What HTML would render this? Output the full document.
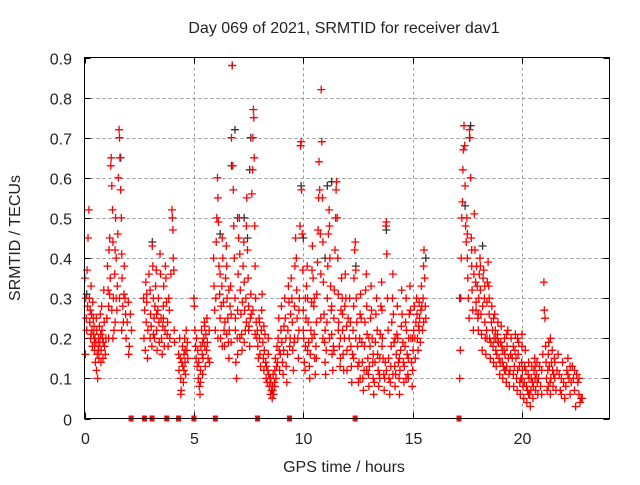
<!DOCTYPE html>
<html><head><meta charset="utf-8"><style>
html,body{margin:0;padding:0;background:#fff;}
svg text{font-family:"Liberation Sans",sans-serif;fill:#222;}
</style></head><body>
<svg id="chart" width="640" height="480" viewBox="0 0 640 480" xmlns="http://www.w3.org/2000/svg">
<rect width="640" height="480" fill="#fff"/>
<text x="344" y="33" font-size="16" text-anchor="middle">Day 069 of 2021, SRMTID for receiver dav1</text>
<text x="0" y="0" font-size="16" text-anchor="middle" transform="translate(20,238) rotate(-90)">SRMTID / TECUs</text>
<text x="344" y="472" font-size="16" text-anchor="middle">GPS time / hours</text>
<g id="grid"></g>
<g id="ticks"></g>
<g id="black"></g>
<g id="red"></g>
<g id="gaps"></g>
<rect x="84.5" y="57.5" width="525" height="361" fill="none" stroke="#000" stroke-width="1"/>
</svg>
<script>
const xTicks=[0,5,10,15,20];
const yTicks=[0,0.1,0.2,0.3,0.4,0.5,0.6,0.7,0.8,0.9];
const yTickLabels=["0","0.1","0.2","0.3","0.4","0.5","0.6","0.7","0.8","0.9"];
const gapHours=[2.13,2.74,3.09,3.76,4.3,5.0,5.98,7.91,9.37,12.37,17.12];
const blackPoints=[[6.75,.88],[6.88,.72],[6.72,.63],[7.0,.5],[7.6,.7],[7.55,.62],[11.3,.59],[11.1,.58],[17.65,.73],[17.6,.7],[10.0,.45],[13.8,.47],[3.1,.44],[1.65,.65],[15.6,.4],[18.2,.43],[12.4,.38],[11.0,.4],[7.3,.5],[7.45,.45],[0.1,.31],[17.15,.3],[17.4,.53],[6.2,.46],[9.9,.58]];
const redPoints=[
[0.02,.35],[0.04,.16],[0.06,.3],[0.08,.25],[0.1,.22],[0.12,.37],[0.14,.28],[0.16,.45],[0.2,.52],[0.22,.3],[0.24,.24],[0.26,.27],[0.28,.2],[0.3,.33],[0.32,.26],[0.34,.22],[0.36,.18],[0.38,.29],[0.4,.25],[0.42,.21],[0.44,.23],[0.46,.17],[0.48,.2],[0.5,.14],[0.52,.19],[0.54,.25],[0.56,.22],[0.58,.16],[0.6,.1],[0.62,.18],[0.64,.2],[0.66,.15],[0.68,.23],[0.7,.19],[0.72,.26],[0.74,.21],[0.76,.17],[0.78,.28],[0.8,.22],[0.82,.2],[0.84,.15],[0.86,.19],[0.88,.32],[0.9,.24],[0.92,.18],[0.95,.16],[0.98,.2],[0.3,.21],[0.45,.19],[0.55,.12],[0.65,.17],[0.75,.14],
[1.02,.25],[1.05,.38],[1.08,.32],[1.1,.28],[1.12,.42],[1.15,.45],[1.18,.35],[1.2,.63],[1.22,.65],[1.25,.58],[1.28,.52],[1.3,.44],[1.32,.3],[1.35,.22],[1.38,.36],[1.4,.42],[1.42,.5],[1.45,.4],[1.48,.27],[1.5,.33],[1.52,.46],[1.55,.6],[1.58,.72],[1.6,.7],[1.62,.65],[1.65,.57],[1.68,.5],[1.7,.41],[1.72,.35],[1.75,.28],[1.78,.24],[1.8,.31],[1.82,.38],[1.85,.3],[1.88,.26],[1.9,.2],[1.95,.24],[2.0,.29],[2.05,.18],[2.1,.26],[2.15,.22],[1.3,.2],[1.45,.3],[1.6,.3],[1.25,.27],[1.4,.24],[1.7,.22],[1.1,.2],[1.15,.31],[2.02,.16],
[2.7,.3],[2.72,.2],[2.75,.27],[2.78,.17],[2.8,.34],[2.82,.24],[2.85,.29],[2.88,.15],[2.9,.22],[2.95,.36],[3.0,.32],[3.02,.26],[3.05,.23],[3.08,.18],[3.1,.43],[3.12,.38],[3.15,.3],[3.18,.25],[3.2,.2],[3.22,.28],[3.25,.33],[3.28,.37],[3.3,.22],[3.32,.17],[3.35,.27],[3.38,.3],[3.4,.24],[3.42,.19],[3.45,.41],[3.48,.36],[3.5,.25],[3.52,.2],[3.55,.16],[3.58,.23],[3.6,.28],[3.62,.33],[3.65,.18],[3.68,.22],[3.7,.38],[3.72,.35],[3.75,.29],[3.78,.21],[3.8,.24],[3.82,.18],[3.85,.3],[3.88,.27],[3.9,.2],[3.95,.36],[4.0,.52],[4.02,.5],[4.04,.47],[4.06,.4],[4.08,.37],[4.1,.22],[4.12,.19],[2.85,.31],[3.0,.2],[3.15,.21],[3.3,.26],[3.6,.25],
[4.3,.16],[4.32,.12],[4.35,.2],[4.38,.15],[4.4,.1],[4.42,.07],[4.45,.14],[4.48,.18],[4.5,.13],[4.52,.09],[4.55,.16],[4.58,.2],[4.6,.14],[4.62,.11],[4.65,.22],[4.68,.17],[4.7,.19],[4.72,.15],[4.4,.06],[4.55,.12],[4.6,.17],
[5.0,.3],[5.02,.28],[5.05,.22],[5.08,.18],[5.1,.15],[5.12,.2],[5.15,.13],[5.18,.17],[5.2,.1],[5.22,.14],[5.25,.08],[5.28,.06],[5.3,.12],[5.32,.18],[5.35,.22],[5.38,.16],[5.4,.11],[5.42,.15],[5.45,.2],[5.48,.24],[5.5,.18],[5.52,.13],[5.55,.21],[5.58,.17],[5.6,.25],[5.62,.19],[5.65,.15],[5.7,.22],[5.72,.14],[5.3,.09],[5.4,.19],[5.5,.23],
[5.9,.4],[5.92,.33],[5.95,.27],[5.98,.22],[6.0,.3],[6.02,.44],[6.05,.5],[6.08,.6],[6.1,.55],[6.12,.49],[6.15,.38],[6.18,.31],[6.2,.25],[6.22,.2],[6.25,.28],[6.28,.33],[6.3,.45],[6.32,.4],[6.35,.29],[6.38,.22],[6.4,.18],[6.42,.24],[6.45,.35],[6.48,.43],[6.5,.38],[6.52,.3],[6.55,.25],[6.58,.19],[6.6,.15],[6.62,.22],[6.65,.28],[6.68,.33],[6.7,.26],[6.72,.7],[6.75,.88],[6.78,.63],[6.8,.57],[6.82,.48],[6.85,.4],[6.88,.3],[6.9,.22],[6.92,.14],[6.95,.1],[6.98,.2],[7.0,.27],[7.02,.36],[7.05,.45],[7.08,.5],[7.1,.41],[7.12,.32],[7.15,.26],[7.18,.21],[7.2,.17],[7.22,.29],[7.25,.38],[7.28,.44],[7.3,.34],[7.32,.27],[7.35,.22],[7.38,.3],[7.4,.48],[7.42,.55],[7.45,.42],[7.48,.35],[7.5,.28],[7.52,.23],[7.55,.18],[7.58,.25],[7.6,.31],[7.62,.26],[7.65,.56],[7.68,.62],[7.7,.7],[7.72,.77],[7.74,.75],[7.76,.65],[7.78,.48],[7.8,.38],[7.82,.3],[7.85,.24],[7.88,.2],[6.1,.2],[6.3,.18],[6.5,.21],[6.7,.19],[6.9,.25],[7.1,.2],[7.3,.19],[7.5,.22],[7.7,.27],[6.2,.36],[6.6,.32],[7.0,.16],[7.4,.24],[7.8,.21],
[7.9,.22],[7.92,.18],[7.95,.15],[7.98,.25],[8.0,.2],[8.02,.16],[8.05,.13],[8.08,.22],[8.1,.27],[8.12,.31],[8.15,.19],[8.18,.15],[8.2,.12],[8.22,.17],[8.25,.21],[8.28,.14],[8.3,.1],[8.32,.13],[8.35,.09],[8.38,.12],[8.4,.16],[8.42,.11],[8.45,.08],[8.48,.1],[8.5,.06],[8.52,.09],[8.55,.07],[8.58,.05],[8.6,.08],[8.62,.11],[8.65,.06],[8.68,.09],[8.7,.12],[8.72,.15],[8.75,.1],[8.78,.13],[8.8,.18],[8.82,.14],[8.85,.2],[8.88,.25],[8.9,.17],[8.92,.12],[8.95,.16],[8.98,.22],[9.0,.28],[9.02,.19],[9.05,.14],[9.08,.11],[9.1,.17],[9.12,.23],[9.15,.3],[9.18,.25],[9.2,.2],[9.22,.13],[9.25,.09],[9.28,.16],[9.3,.22],[9.32,.33],[9.35,.29],[9.38,.18],[8.5,.1],[8.6,.07],[8.7,.08],[8.0,.24],[8.2,.23],[8.4,.2],
[9.4,.2],[9.42,.26],[9.45,.35],[9.48,.3],[9.5,.24],[9.52,.17],[9.55,.12],[9.58,.19],[9.6,.28],[9.62,.38],[9.65,.45],[9.68,.4],[9.7,.32],[9.72,.25],[9.75,.2],[9.78,.15],[9.8,.22],[9.82,.3],[9.85,.48],[9.88,.68],[9.9,.69],[9.92,.57],[9.95,.46],[9.98,.37],[10.0,.27],[10.02,.2],[10.05,.14],[10.08,.12],[10.1,.18],[10.12,.25],[10.15,.33],[10.18,.38],[10.2,.3],[10.22,.24],[10.25,.19],[10.28,.13],[10.3,.1],[10.32,.16],[10.35,.22],[10.38,.29],[10.4,.37],[10.42,.43],[10.45,.35],[10.48,.28],[10.5,.21],[10.52,.15],[10.55,.11],[10.58,.18],[10.6,.24],[10.62,.31],[10.65,.39],[10.68,.47],[10.7,.55],[10.72,.64],[10.75,.57],[10.78,.46],[10.8,.36],[10.82,.82],[10.85,.69],[10.88,.55],[10.9,.44],[10.92,.34],[10.95,.26],[10.98,.19],[11.0,.14],[11.02,.11],[11.05,.17],[11.08,.24],[11.1,.3],[11.12,.38],[11.15,.46],[11.18,.52],[11.2,.48],[11.22,.4],[11.25,.33],[11.28,.27],[11.3,.21],[11.32,.16],[11.35,.12],[11.38,.18],[11.4,.25],[11.42,.32],[11.45,.42],[11.48,.5],[11.5,.57],[11.52,.59],[11.55,.5],[11.58,.4],[11.6,.31],[11.62,.24],[11.65,.18],[11.68,.13],[11.7,.2],[11.72,.27],[11.75,.35],[11.78,.3],[11.8,.22],[11.82,.16],[11.85,.12],[11.88,.2],[11.9,.28],[11.92,.36],[11.95,.3],[11.98,.23],[12.0,.17],[12.05,.25],[12.1,.2],[9.6,.2],[9.8,.27],[10.0,.22],[10.2,.17],[10.4,.2],[10.6,.15],[10.8,.25],[11.0,.22],[11.2,.2],[11.4,.17],[11.6,.22],[11.8,.26],[12.0,.12],[10.1,.3],[10.5,.3],[10.9,.2],[11.3,.28],[11.7,.15],
[12.12,.3],[12.15,.24],[12.18,.18],[12.2,.13],[12.22,.09],[12.25,.16],[12.28,.22],[12.3,.28],[12.32,.35],[12.35,.42],[12.38,.44],[12.4,.37],[12.42,.3],[12.45,.24],[12.48,.18],[12.5,.13],[12.52,.09],[12.55,.14],[12.58,.2],[12.6,.26],[12.62,.31],[12.65,.25],[12.68,.19],[12.7,.14],[12.72,.1],[12.75,.07],[12.78,.12],[12.8,.18],[12.82,.24],[12.85,.32],[12.88,.36],[12.9,.28],[12.92,.21],[12.95,.15],[12.98,.11],[13.0,.08],[13.02,.13],[13.05,.18],[13.08,.25],[13.1,.33],[13.12,.27],[13.15,.2],[13.18,.14],[13.2,.1],[13.22,.06],[13.25,.09],[13.28,.14],[13.3,.19],[13.32,.26],[13.35,.3],[13.38,.22],[13.4,.16],[13.42,.12],[13.45,.08],[13.48,.11],[13.5,.15],[13.52,.21],[13.55,.28],[13.58,.34],[13.6,.27],[13.62,.2],[13.65,.15],[13.68,.11],[13.7,.07],[13.72,.1],[13.75,.14],[13.78,.48],[13.8,.49],[13.82,.41],[13.85,.3],[13.88,.22],[13.9,.15],[13.92,.1],[13.95,.06],[13.98,.09],[14.0,.13],[14.02,.18],[14.05,.24],[14.08,.3],[14.1,.36],[14.12,.26],[14.15,.19],[14.18,.13],[14.2,.08],[14.22,.11],[14.25,.16],[14.28,.21],[14.3,.28],[14.32,.2],[14.35,.14],[14.38,.1],[14.4,.06],[14.42,.12],[14.45,.17],[14.48,.23],[14.5,.32],[14.52,.26],[14.55,.19],[14.58,.14],[14.6,.09],[14.62,.13],[14.65,.18],[14.68,.24],[14.7,.3],[14.72,.22],[14.75,.16],[14.78,.11],[14.8,.15],[14.82,.2],[14.85,.26],[14.88,.33],[14.9,.27],[14.92,.2],[14.95,.14],[14.98,.08],[15.0,.12],[15.02,.17],[15.05,.22],[15.08,.28],[15.1,.2],[15.12,.15],[15.15,.24],[15.18,.3],[15.2,.26],[15.22,.2],[15.25,.17],[15.28,.23],[15.3,.29],[15.32,.25],[15.35,.19],[15.38,.27],[15.4,.33],[15.42,.28],[15.45,.22],[15.48,.3],[15.5,.38],[15.52,.42],[15.55,.35],[15.58,.28],[15.6,.25],[12.3,.15],[12.6,.1],[12.9,.12],[13.2,.16],[13.5,.1],[13.8,.12],[14.1,.11],[14.4,.15],[14.7,.1],[15.0,.2],[15.3,.22],[15.5,.24],[12.4,.2],[13.0,.2],[13.6,.18],[14.2,.2],[14.8,.1],
[17.15,.1],[17.18,.17],[17.2,.3],[17.22,.4],[17.25,.5],[17.28,.54],[17.3,.62],[17.32,.67],[17.35,.73],[17.38,.68],[17.4,.58],[17.42,.48],[17.45,.44],[17.48,.5],[17.5,.4],[17.52,.35],[17.55,.3],[17.58,.25],[17.6,.72],[17.62,.7],[17.65,.6],[17.68,.45],[17.7,.38],[17.72,.32],[17.75,.27],[17.78,.22],[17.8,.36],[17.82,.51],[17.85,.42],[17.88,.34],[17.9,.29],[17.92,.38],[17.95,.33],[17.98,.25],[18.0,.22],[18.02,.3],[18.05,.36],[18.08,.4],[18.1,.32],[18.12,.26],[18.15,.21],[18.18,.17],[18.2,.28],[18.22,.35],[18.25,.37],[18.28,.3],[18.3,.24],[18.32,.2],[18.35,.16],[18.38,.22],[18.4,.29],[18.42,.34],[18.45,.39],[18.48,.33],[18.5,.26],[18.52,.2],[18.55,.15],[18.58,.19],[18.6,.24],[18.62,.28],[18.65,.22],[18.68,.18],[18.7,.14],[18.72,.2],[18.75,.26],[18.78,.22],[18.8,.17],[18.82,.13],[18.85,.16],[18.88,.21],[18.9,.24],[18.92,.19],[18.95,.15],[18.98,.11],[19.0,.14],[19.02,.19],[19.05,.23],[19.08,.18],[19.1,.14],[19.12,.1],[19.15,.13],[19.18,.17],[19.2,.2],[19.22,.16],[19.25,.12],[19.28,.09],[19.3,.13],[19.32,.18],[19.35,.22],[19.38,.15],[19.4,.11],[19.42,.08],[19.45,.12],[19.48,.16],[17.5,.46],[17.7,.42],[17.9,.27],[18.1,.38],[18.3,.33],[18.5,.3],[18.7,.25],[18.9,.19],[19.1,.17],[19.3,.21],[18.0,.26],[18.4,.2],[18.8,.2],[19.2,.12],
[19.5,.2],[19.55,.15],[19.6,.11],[19.62,.08],[19.65,.13],[19.68,.17],[19.7,.21],[19.72,.15],[19.75,.1],[19.78,.07],[19.8,.12],[19.82,.16],[19.85,.19],[19.88,.13],[19.9,.09],[19.92,.06],[19.95,.1],[19.98,.14],[20.0,.18],[20.02,.12],[20.05,.08],[20.08,.05],[20.1,.09],[20.12,.13],[20.15,.17],[20.18,.12],[20.2,.08],[20.22,.04],[20.25,.07],[20.28,.11],[20.3,.14],[20.32,.1],[20.35,.06],[20.38,.03],[20.4,.07],[20.42,.1],[20.45,.13],[20.48,.09],[20.5,.05],[20.52,.08],[20.55,.12],[20.58,.15],[20.6,.1],[20.62,.07],[20.65,.11],[20.68,.14],[20.7,.09],[20.72,.06],[20.75,.1],[20.8,.13],[20.85,.08],[20.9,.12],[20.95,.16],[21.0,.34],[21.02,.27],[21.05,.25],[21.08,.18],[21.1,.14],[21.12,.1],[21.15,.07],[21.18,.12],[21.2,.16],[21.22,.19],[21.25,.13],[21.28,.09],[21.3,.06],[21.32,.1],[21.35,.14],[21.38,.17],[21.4,.12],[21.42,.08],[21.45,.11],[21.48,.15],[21.5,.1],[21.55,.07],[21.6,.12],[21.65,.16],[21.7,.11],[21.75,.07],[21.8,.1],[21.85,.14],[21.9,.09],[21.95,.05],[22.0,.08],[22.05,.12],[22.1,.15],[22.15,.1],[22.2,.06],[22.25,.09],[22.3,.13],[22.35,.1],[22.4,.07],[22.45,.03],[22.5,.11],[22.55,.09],[22.6,.06],[22.65,.04],[22.7,.05],[22.75,.05],[19.6,.18],[19.8,.2],[20.0,.1],[20.3,.06],[20.6,.13],[20.9,.06],[21.2,.08],[21.5,.14],[21.8,.06],[22.1,.11],[22.4,.12],[22.6,.1],[21.3,.2],[20.0,.21],[22.2,.13]
];
const NS="http://www.w3.org/2000/svg";
const X0=84.5,X1=609.5,Y0=418.5,Y1=57.5,XMAX=24,YMAX=0.9;
function xs(h){return X0+(h/XMAX)*(X1-X0);}
function ys(v){return Y0-(v/YMAX)*(Y0-Y1);}
function mk(tag,attrs,parent){const e=document.createElementNS(NS,tag);for(const k in attrs)e.setAttribute(k,attrs[k]);parent.appendChild(e);return e;}
const grid=document.getElementById('grid'),ticks=document.getElementById('ticks');
yTicks.forEach((v,i)=>{
  const y=Math.round(ys(v))+0.5;
  if(v>0&&v<YMAX){const g=mk('line',{x1:X0,x2:X1,y1:y,y2:y,stroke:'#999','stroke-dasharray':'3,3'},grid);
  
  }
  mk('line',{x1:X0,x2:X0+6,y1:y,y2:y,stroke:'#000'},ticks);
  mk('line',{x1:X1-6,x2:X1,y1:y,y2:y,stroke:'#000'},ticks);
  const t=mk('text',{x:72,y:y+6,'font-size':16,'text-anchor':'end'},ticks);
  t.textContent=yTickLabels[i];
  
  
});
xTicks.forEach(h=>{
  const x=Math.round(xs(h))+0.5;
  if(h>0){const g=mk('line',{x1:x,x2:x,y1:Y0,y2:Y1,stroke:'#999','stroke-dasharray':'3,3'},grid);
  
  }
  mk('line',{x1:x,x2:x,y1:Y0,y2:Y0-6,stroke:'#000'},ticks);
  mk('line',{x1:x,x2:x,y1:Y1,y2:Y1+6,stroke:'#000'},ticks);
  const t=mk('text',{x:x,y:444,'font-size':16,'text-anchor':'middle'},ticks);
  t.textContent=String(h);
  
  
});
function plus(p,color,parent){
  const x=xs(p[0]),y=ys(p[1]);
  const e=mk('path',{d:`M${(x-4).toFixed(1)} ${y.toFixed(1)}h8M${x.toFixed(1)} ${(y-4).toFixed(1)}v8`,stroke:color,'stroke-width':1.3,fill:'none'},parent);
  return e;
}
const blackG=document.getElementById('black'),redG=document.getElementById('red'),gapG=document.getElementById('gaps');
blackPoints.forEach(p=>{const e=plus(p,'#333',blackG);
  
  });
redPoints.forEach(p=>{const e=plus(p,'#f00',redG);
  
  });
gapHours.forEach(h=>{const e=mk('rect',{x:xs(h)-2.5,y:ys(0)-3,width:5,height:6,fill:'#f00'},gapG);
  
  });
</script>
</body></html>
